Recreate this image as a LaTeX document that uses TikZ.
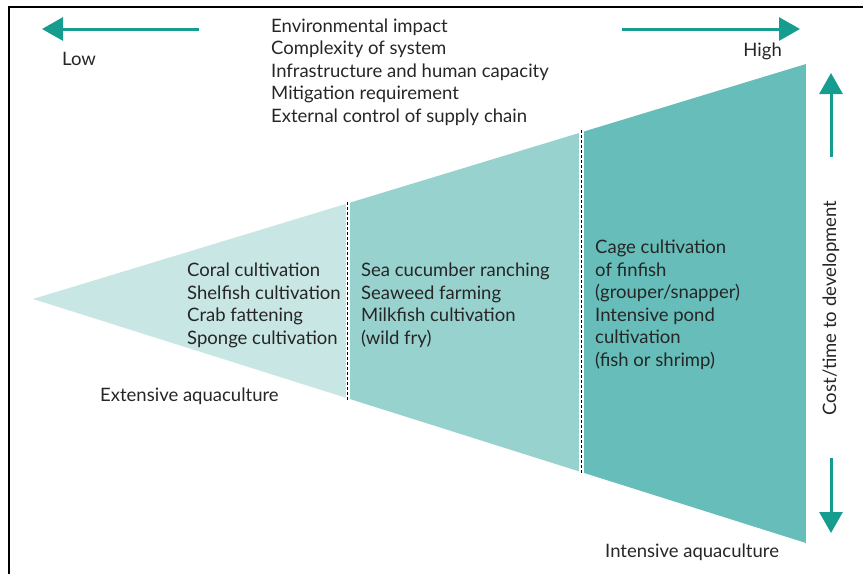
\documentclass[tikz,border=0pt]{standalone}
\usepackage{fontspec}
\setmainfont{Lato}
\usetikzlibrary{arrows.meta}

\definecolor{tealdark}{HTML}{179C90}
\definecolor{zoneone}{HTML}{C8E6E4}
\definecolor{zonetwo}{HTML}{98D2CE}
\definecolor{zonethree}{HTML}{66BDB9}
\definecolor{inktext}{HTML}{262626}

\tikzset{
    lbl/.style={inner sep=0pt, text=inktext, align=left,
        font=\fontsize{18.5}{22.5}\selectfont},
    bigarrow/.style={tealdark, line width=3pt,
        -{Triangle[width=23pt,length=21pt]}}
}

\begin{document}
\begin{tikzpicture}[x=1pt,y=-1pt]

    \useasboundingbox (0,0) rectangle (863,574);

    % frame
    \draw[line width=2pt] (9,574) -- (9,7) -- (863,7);

    % wedge
    \coordinate (apex) at (33,299);
    \coordinate (topr) at (806,64);
    \coordinate (botr) at (806,543);
    \begin{scope}
        \clip (apex) -- (topr) -- (botr) -- cycle;
        \fill[zoneone] (0,0) rectangle (347,574);
        \fill[zonetwo] (347,0) rectangle (581,574);
        \fill[zonethree] (581,0) rectangle (806,574);
    \end{scope}
    \draw[white, line width=4pt] (347.5,202) -- (347.5,400);
    \draw[white, line width=5pt] (581,130) -- (581,473);
    \draw[dashed, line width=0.9pt, dash pattern=on 3pt off 2pt]
        (347.5,202) -- (347.5,400);
    \draw[dashed, line width=0.9pt, dash pattern=on 3pt off 2pt]
        (581,130) -- (581,473);

    % arrows
    \coordinate (lowend) at (199,29);
    \coordinate (lowtip) at (42,29);
    \coordinate (highend) at (622,29);
    \coordinate (hightip) at (800,29);
    \coordinate (upend) at (831,157);
    \coordinate (uptip) at (831,73);
    \coordinate (downend) at (831,458);
    \coordinate (downtip) at (831,533);
    \draw[bigarrow] (lowend) -- (lowtip);
    \draw[bigarrow] (highend) -- (hightip);
    \draw[bigarrow] (upend) -- (uptip);
    \draw[bigarrow] (downend) -- (downtip);

    % labels
    \node[lbl, anchor=west] (low) at (62,59) {Low};
    \node[lbl, anchor=east] (high) at (782,51) {High};
    \node[lbl, anchor=west] (factors) at (271,72) {Environmental impact\\
        Complexity of system\\
        Infrastructure and human capacity\\
        Mitigation requirement\\
        External control of supply chain};

    \node[lbl, anchor=west] (extensive) at (187,305.5) {Coral cultivation\\
        Shelfish cultivation\\
        Crab fattening\\
        Sponge cultivation};
    \node[lbl, anchor=west] (semi) at (361,305.5) {Sea cucumber ranching\\
        Seaweed farming\\
        Milkfish cultivation\\
        (wild fry)};
    \node[lbl, anchor=west] (intensive) at (595,305) {Cage cultivation\\
        of finfish\\
        (grouper/snapper)\\
        Intensive pond\\
        cultivation\\
        (fish or shrimp)};

    \node[lbl, anchor=west] (extlabel) at (100,396) {Extensive aquaculture};
    \node[lbl, anchor=west] (intlabel) at (605,552) {Intensive aquaculture};
    \node[lbl, rotate=90] (cost) at (831,308) {Cost/time to development};

\end{tikzpicture}
\end{document}
